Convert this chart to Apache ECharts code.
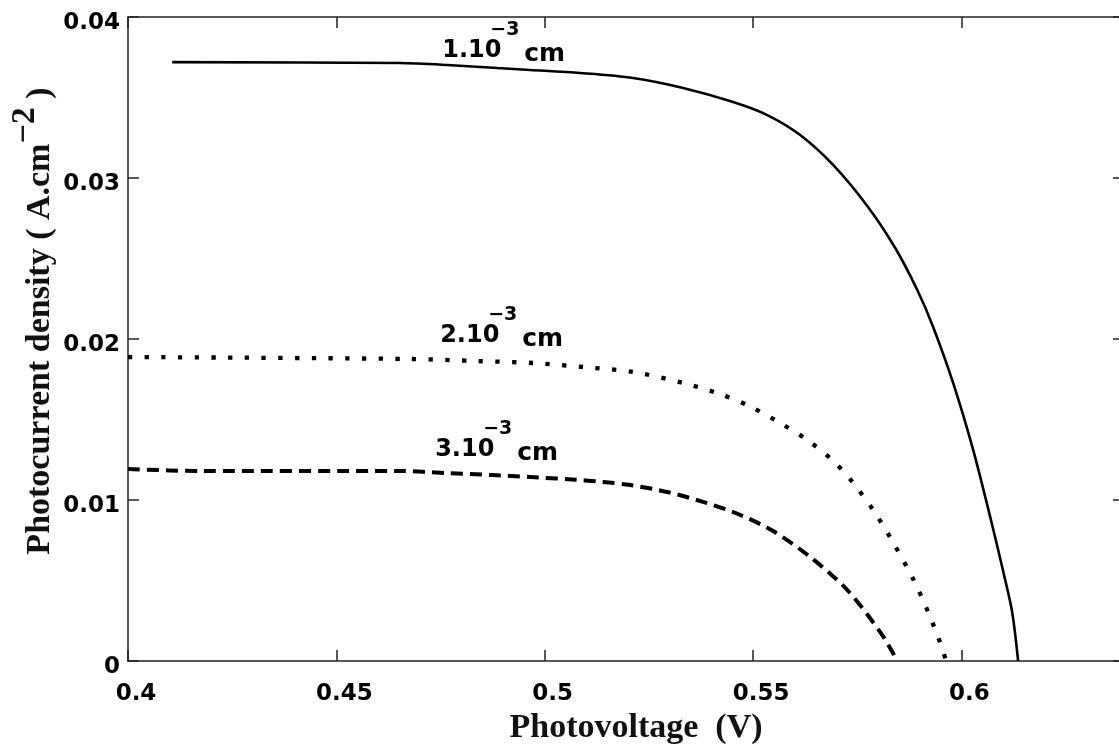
<!DOCTYPE html>
<html>
<head>
<meta charset="utf-8">
<script src="https://cdn.jsdelivr.net/npm/echarts@6/dist/echarts.min.js"></script>
<style>
  html, body { margin: 0; padding: 0; background: #fff; }
  #chart { width: 1119px; height: 744px; }
</style>
</head>
<body>
<div id="chart"></div>
<script>
// Photocurrent density versus photovoltage for three layer thicknesses
const xTicks = [0.4, 0.45, 0.5, 0.55, 0.6];
const yTicks = [0, 0.01, 0.02, 0.03, 0.04];

// 1.10^-3 cm (solid)
const v1 = [0.4106, 0.4653, 0.4766, 0.4886, 0.4965, 0.5085, 0.5212, 0.5332, 0.5452, 0.5534,
            0.5613, 0.5692, 0.5774, 0.5841, 0.5894, 0.5932, 0.5980, 0.6028, 0.6069, 0.6105,
            0.6122, 0.6136];
const j1 = [0.03720, 0.03714, 0.03702, 0.03683, 0.03671, 0.03652, 0.03621, 0.03559, 0.03472, 0.03391,
            0.03267, 0.03081, 0.02826, 0.02565, 0.02304, 0.02075, 0.01727, 0.01311, 0.00894, 0.00503,
            0.00298, 0];

// 2.10^-3 cm (dotted)
const v2 = [0.4, 0.4677, 0.4838, 0.4972, 0.5092, 0.5212, 0.5332, 0.5421, 0.5486, 0.5565,
            0.5630, 0.5690, 0.5740, 0.5793, 0.5841, 0.5884, 0.5920, 0.5951, 0.5963];
const j2 = [0.01888, 0.01876, 0.01863, 0.01851, 0.01826, 0.01795, 0.01727, 0.01658, 0.01590, 0.01478,
            0.01373, 0.01248, 0.01106, 0.00919, 0.00714, 0.00509, 0.00304, 0.00099, 0];

// 3.10^-3 cm (dashed)
const v3 = [0.4, 0.4173, 0.4653, 0.4761, 0.4874, 0.4965, 0.5066, 0.5140, 0.5205, 0.5294,
            0.5380, 0.5464, 0.5548, 0.5637, 0.5726, 0.5810, 0.5846];
const j3 = [0.01193, 0.01180, 0.01180, 0.01168, 0.01155, 0.01143, 0.01127, 0.01112, 0.01093, 0.01050,
            0.00988, 0.00913, 0.00807, 0.00646, 0.00441, 0.00161, 0];

// curve annotations: mantissa, exponent, unit, anchor point
const labelText = ['1.10', '2.10', '3.10'];
const labelExp = ['−3', '−3', '−3'];
const labelUnit = ['cm', 'cm', 'cm'];
const labelV = [0.4754, 0.4749, 0.4737];
const labelJ = [0.03789, 0.02019, 0.01311];

const zip = (a, b) => a.map((v, i) => [v, b[i]]);
const fmt = v => String(+v.toFixed(2));

const tickFont = { fontFamily: 'DejaVu Sans', fontWeight: 'bold', fontSize: 23, color: '#000' };
const axisLineStyle = { color: '#222', width: 1.5 };

const chart = echarts.init(document.getElementById('chart'), null, { renderer: 'canvas' });

// mantissa centred, exponent raised, unit slightly lowered
const labelRich = {
  n: { fontFamily: 'DejaVu Sans', fontWeight: 'bold', fontSize: 24, color: '#000',
       lineHeight: 61, verticalAlign: 'middle', width: 48, align: 'left' },
  s: { fontFamily: 'DejaVu Sans', fontWeight: 'bold', fontSize: 19, color: '#000',
       verticalAlign: 'top', width: 34, align: 'left' },
  u: { fontFamily: 'DejaVu Sans', fontWeight: 'bold', fontSize: 25, color: '#000',
       verticalAlign: 'bottom', padding: [0, 0, 14, 0], align: 'left' }
};

const lineCommon = { type: 'line', xAxisIndex: 0, yAxisIndex: 0, symbol: 'none', smooth: 0.3 };

const option = {
  backgroundColor: '#fff',
  animation: false,
  grid: { left: 128, top: 17, right: -5, bottom: 83, containLabel: false, outerBoundsMode: 'none' },
  xAxis: [
    {
      type: 'value', min: 0.4, max: 0.639, interval: 0.05, position: 'bottom',
      name: 'Photovoltage  (V)', nameLocation: 'middle', nameGap: 50, nameMoveOverlap: false,
      nameTextStyle: { fontFamily: 'Liberation Serif', fontWeight: 'bold', fontSize: 34,
                       color: '#111', padding: [0, 0, 0, 20] },
      axisLine: { show: true, onZero: false, lineStyle: axisLineStyle },
      axisTick: { show: true, inside: true, length: 11, lineStyle: axisLineStyle },
      axisLabel: Object.assign({ margin: 22, showMaxLabel: false, padding: [0, 0, 0, 16],
                                 formatter: v => xTicks.some(t => Math.abs(t - v) < 1e-9) ? fmt(v) : '' }, tickFont),
      splitLine: { show: false }
    },
    {
      type: 'value', min: 0.4, max: 0.639, interval: 0.05, position: 'top',
      axisLine: { show: true, onZero: false, lineStyle: axisLineStyle },
      axisTick: { show: true, inside: true, length: 11, lineStyle: axisLineStyle },
      axisLabel: { show: false },
      splitLine: { show: false }
    }
  ],
  yAxis: [
    {
      type: 'value', min: 0, max: 0.04, interval: 0.01, position: 'left',
      name: '{b|Photocurrent density ( A.cm}{sup|−2}{b| )}',
      nameLocation: 'middle', nameGap: 56, nameRotate: 90, nameMoveOverlap: false,
      nameTextStyle: {
        fontFamily: 'Liberation Serif', fontWeight: 'bold', fontSize: 34, color: '#111',
        padding: [0, 0, 0, 36],
        rich: {
          b: { fontFamily: 'Liberation Serif', fontWeight: 'bold', fontSize: 34, color: '#111',
               lineHeight: 64, verticalAlign: 'middle' },
          sup: { fontFamily: 'Liberation Serif', fontWeight: 'bold', fontSize: 34, color: '#111',
                 verticalAlign: 'top' }
        }
      },
      axisLine: { show: true, onZero: false, lineStyle: axisLineStyle },
      axisTick: { show: true, inside: true, length: 11, lineStyle: axisLineStyle },
      axisLabel: {
        margin: 8,
        formatter: v => yTicks.some(t => Math.abs(t - v) < 1e-9) ? '{t|' + fmt(v) + '}' : '',
        rich: { t: Object.assign({ lineHeight: 35, verticalAlign: 'bottom' }, tickFont) }
      },
      splitLine: { show: false }
    },
    {
      type: 'value', min: 0, max: 0.04, interval: 0.01, position: 'right',
      axisLine: { show: true, onZero: false, lineStyle: axisLineStyle },
      axisTick: { show: true, inside: true, length: 11, lineStyle: axisLineStyle },
      axisLabel: { show: false },
      splitLine: { show: false }
    }
  ],
  series: [
    Object.assign({}, lineCommon, {
      name: '1.10-3 cm', data: zip(v1, j1),
      lineStyle: { color: '#000', width: 2.6, type: 'solid' }
    }),
    Object.assign({}, lineCommon, {
      name: '2.10-3 cm', data: zip(v2, j2),
      lineStyle: { color: '#000', width: 4.3, type: [4.3, 12.4], cap: 'butt' }
    }),
    Object.assign({}, lineCommon, {
      name: '3.10-3 cm', data: zip(v3, j3),
      lineStyle: { color: '#000', width: 4, type: [12, 7], cap: 'butt' }
    }),
    {
      name: 'labels', type: 'scatter', xAxisIndex: 0, yAxisIndex: 0,
      symbolSize: 0, silent: true, itemStyle: { opacity: 1 },
      data: labelV.map((v, i) => [v, labelJ[i]]),
      label: {
        show: true, position: 'right', distance: 0, color: '#000',
        formatter: p => '{n|' + labelText[p.dataIndex] + '}{s|' + labelExp[p.dataIndex] + '}{u|' + labelUnit[p.dataIndex] + '}',
        rich: labelRich
      }
    }
  ]
};

chart.setOption(option);
</script>
</body>
</html>
